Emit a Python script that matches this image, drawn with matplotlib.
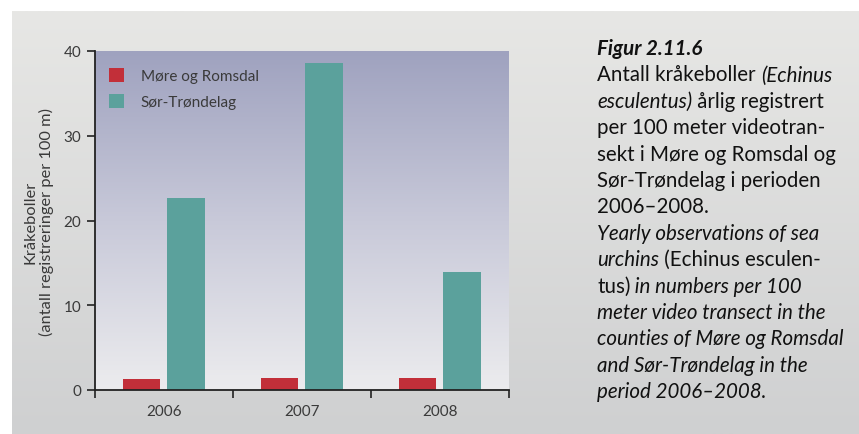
import numpy as np
import matplotlib
matplotlib.use("Agg")
import matplotlib.pyplot as plt
from matplotlib.colors import LinearSegmentedColormap

years = ["2006", "2007", "2008"]
more_romsdal = [1.3, 1.4, 1.4]
sor_trondelag = [22.6, 38.6, 13.9]
series_names = ["Møre og Romsdal", "Sør-Trøndelag"]
yticks = [0, 10, 20, 30, 40]

plt.rcParams["font.family"] = ["Lato", "DejaVu Sans"]

W, H = 859, 435
fig = plt.figure(figsize=(W / 100, H / 100), dpi=100)
fig.patch.set_facecolor("white")

# grey panel with soft vertical gradient
bg = fig.add_axes([12 / W, 0, 1 - 12 / W, 1 - 12 / H], zorder=-5)
bg_cmap = LinearSegmentedColormap.from_list("bg", ["#cfd0d1", "#e7e7e5"])
bg.imshow(np.linspace(0, 1, 256).reshape(-1, 1), cmap=bg_cmap, aspect="auto",
          origin="lower", extent=[0, 1, 0, 1])
bg.set_axis_off()

# plot area
x0, x1, y0, y1 = 95, 509, 52, 391
ax = fig.add_axes([x0 / W, 1 - y1 / H, (x1 - x0) / W, (y1 - y0) / H])
ax_cmap = LinearSegmentedColormap.from_list("ax", ["#ececee", "#c8c9d9", "#9fa2bf"])
ax.imshow(np.linspace(0, 1, 256).reshape(-1, 1), cmap=ax_cmap, aspect="auto",
          origin="lower", extent=[-0.5, 2.5, 0, 40], zorder=0)

x = np.arange(len(years))
w = 0.27
ax.bar(x - 0.163, more_romsdal, w, color="#c22f39", label=series_names[0], zorder=2)
ax.bar(x + 0.16, sor_trondelag, w, color="#5ba19c", label=series_names[1], zorder=2)

ax.set_xlim(-0.5, 2.5)
ax.set_ylim(0, 40)
ax.set_yticks(yticks)
ax.set_xticks([-0.5, 0.5, 1.5, 2.5])
ax.set_xticklabels([])
ax.set_xticks(x, minor=True)
ax.set_xticklabels(years, minor=True)
ax.tick_params(axis="x", which="minor", length=0, pad=10)
ax.tick_params(axis="x", which="major", direction="out", length=6, width=1.2, color="#222222")
ax.tick_params(axis="y", direction="out", length=6, width=1.2, color="#222222", pad=4)
for lab in ax.get_xticklabels(minor=True) + ax.get_yticklabels():
    lab.set_fontsize(11)
    lab.set_color("#3a3a3a")
for s in ["top", "right"]:
    ax.spines[s].set_visible(False)
for s in ["left", "bottom"]:
    ax.spines[s].set_color("#222222")
    ax.spines[s].set_linewidth(1.3)

leg = ax.legend(loc="upper left", frameon=False, fontsize=11, handlelength=1.0,
                handleheight=1.0, handletextpad=1.1, labelspacing=0.7,
                bbox_to_anchor=(0.0, 0.99))
for t in leg.get_texts():
    t.set_color("#3a3a3a")

fig.text(39 / W, 1 - 222 / H, "Kråkeboller\n(antall registreringer per 100 m)",
         rotation=90, ha="center", va="center", fontsize=11.8, color="#3a3a3a",
         linespacing=1.15)

# caption on the right, each line made of plain / italic runs
caption = [
    [("Figur 2.11.6", "italic", "bold")],
    [("Antall kråkeboller ", "normal", "normal"), ("(Echinus", "italic", "normal")],
    [("esculentus)", "italic", "normal"), (" årlig registrert", "normal", "normal")],
    [("per 100 meter videotran-", "normal", "normal")],
    [("sekt i Møre og Romsdal og", "normal", "normal")],
    [("Sør-Trøndelag i perioden", "normal", "normal")],
    [("2006–2008.", "normal", "normal")],
    [("Yearly observations of sea", "italic", "normal")],
    [("urchins", "italic", "normal"), (" (Echinus esculen-", "normal", "normal")],
    [("tus)", "normal", "normal"), (" in numbers per 100", "italic", "normal")],
    [("meter video transect in the", "italic", "normal")],
    [("counties of Møre og Romsdal", "italic", "normal")],
    [("and Sør-Trøndelag in the", "italic", "normal")],
    [("period 2006–2008.", "italic", "normal")],
]
cx = 597 / W
for i, line in enumerate(caption):
    cy = 1 - (55 + i * 26.4) / H
    prev = None
    for seg, style, weight in line:
        kw = dict(fontsize=14.8, color="#111111", style=style, fontweight=weight)
        if prev is None:
            prev = fig.text(cx, cy, seg, ha="left", va="baseline", **kw)
        else:
            prev = ax.annotate(seg, xycoords=prev, xy=(1, 0), va="bottom", ha="left",
                               annotation_clip=False, **kw)

fig.savefig("out.png", dpi=100)
